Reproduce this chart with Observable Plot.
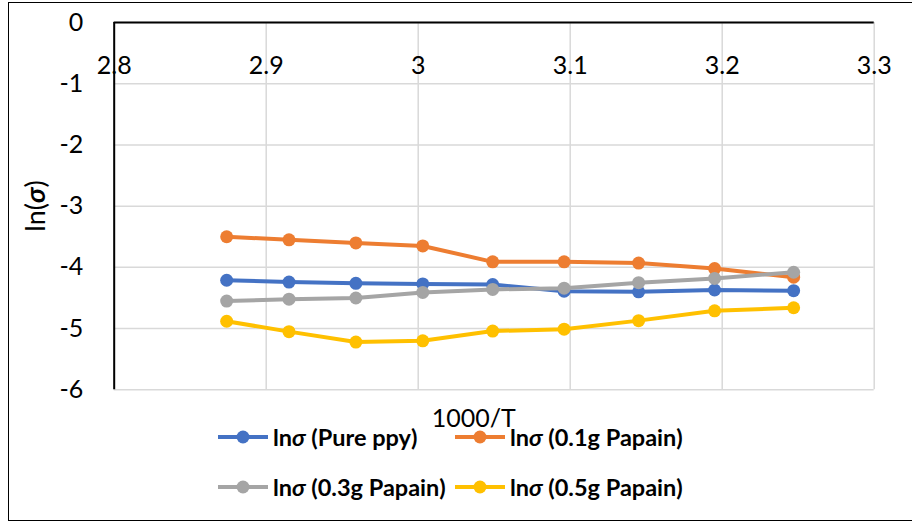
<!DOCTYPE html>
<html>
<head>
<meta charset="utf-8">
<script src="https://cdn.jsdelivr.net/npm/d3@7"></script>
<script src="https://cdn.jsdelivr.net/npm/@observablehq/plot@0.6"></script>
<style>
  html, body { margin: 0; padding: 0; background: #fff; width: 912px; height: 522px; overflow: hidden; }
  body { position: relative; font-family: Lato, "Liberation Sans", sans-serif; }
  #frame { position: absolute; left: 8px; top: 2px; width: 950px; height: 516.5px; border: 1.5px solid #000; box-sizing: content-box; }
  #chart { position: absolute; left: 0; top: 0; }
  #chart svg { background: transparent; }
  .abs { position: absolute; white-space: nowrap; color: #000; }
  #xtitle { left: 473.7px; top: 416.7px; transform: translate(-50%, -50%); font-size: 25px; }
  #ytitle { left: 34px; top: 206px; transform: translate(-50%, -50%) rotate(-90deg); font-size: 27px; }
  #legend { position: absolute; left: 218px; top: 411.7px; display: grid; grid-template-columns: 237px 237px; grid-auto-rows: 50px; }
  .item { display: flex; align-items: center; font-weight: bold; font-size: 23.5px; white-space: nowrap; }
  .item svg { margin-right: 5px; flex: none; }
</style>
</head>
<body>
<div id="frame"></div>
<div id="chart"></div>
<div id="xtitle" class="abs">1000/T</div>
<div id="ytitle" class="abs">ln(<b><i>σ</i></b>)</div>
<div id="legend"></div>
<script>
// Data
const xValues = [2.874, 2.915, 2.959, 3.003, 3.049, 3.096, 3.145, 3.195, 3.247];
const purePpy = [-4.21, -4.24, -4.26, -4.27, -4.28, -4.39, -4.40, -4.37, -4.38];
const papain01 = [-3.50, -3.55, -3.60, -3.65, -3.91, -3.91, -3.93, -4.02, -4.16];
const papain03 = [-4.55, -4.52, -4.50, -4.41, -4.36, -4.34, -4.25, -4.18, -4.08];
const papain05 = [-4.88, -5.05, -5.22, -5.20, -5.04, -5.01, -4.87, -4.71, -4.66];
const seriesNames = ["Pure ppy", "0.1g Papain", "0.3g Papain", "0.5g Papain"];
const seriesColors = ["#4472C4", "#ED7D31", "#A5A5A5", "#FFC000"];
const xTicks = [2.8, 2.9, 3.0, 3.1, 3.2, 3.3];
const xTickLabels = ["2.8", "2.9", "3", "3.1", "3.2", "3.3"];
const yTicks = [-6, -5, -4, -3, -2, -1, 0];

const seriesValues = [purePpy, papain01, papain03, papain05];
const tables = seriesValues.map((vals, i) =>
  xValues.map((x, j) => ({ x, y: vals[j], series: seriesNames[i] }))
);

const seriesMarks = tables.flatMap((rows, i) => [
  Plot.line(rows, { x: "x", y: "y", stroke: seriesColors[i], strokeWidth: 4, strokeLinejoin: "round" }),
  Plot.dot(rows, { x: "x", y: "y", r: 6.5, fill: seriesColors[i], stroke: "none" })
]);

const chart = Plot.plot({
  width: 912,
  height: 410,
  marginLeft: 113.7,
  marginRight: 38.3,
  marginTop: 22,
  marginBottom: 20.7,
  style: { background: "transparent", fontFamily: "Lato, 'Liberation Sans', sans-serif" },
  x: { domain: [2.8, 3.3], axis: null },
  y: { domain: [-6, 0], axis: null },
  marks: [
    Plot.gridX(xTicks, { stroke: "#d9d9d9", strokeOpacity: 1, strokeWidth: 1.5 }),
    Plot.gridY(yTicks, { stroke: "#d9d9d9", strokeOpacity: 1, strokeWidth: 1.5 }),
    Plot.ruleX([2.8], { stroke: "#000", strokeWidth: 2 }),
    Plot.ruleY([0], { stroke: "#000", strokeWidth: 2 }),
    Plot.axisY(yTicks, { anchor: "left", tickSize: 0, tickPadding: 31, fontSize: 25, tickFormat: d => String(d), label: null }),
    Plot.text(xTicks, { x: d => d, y: () => 0, text: (d, i) => xTickLabels[i], dy: 43, fontSize: 25, lineAnchor: "middle", fill: "#000" }),
    ...seriesMarks
  ]
});
document.getElementById("chart").appendChild(chart);

// Legend
const legend = document.getElementById("legend");
seriesNames.forEach((name, i) => {
  const item = document.createElement("div");
  item.className = "item";
  item.innerHTML =
    `<svg width="50" height="16" viewBox="0 0 50 16"><line x1="0" y1="8" x2="50" y2="8" stroke="${seriesColors[i]}" stroke-width="4"/><circle cx="25" cy="8" r="6.5" fill="${seriesColors[i]}"/></svg>` +
    `<span>ln<i>σ</i> (${name})</span>`;
  legend.appendChild(item);
});
</script>
</body>
</html>
